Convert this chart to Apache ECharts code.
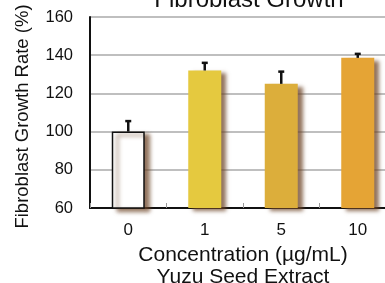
<!DOCTYPE html>
<html>
<head>
<meta charset="utf-8">
<script src="https://cdn.jsdelivr.net/npm/echarts@6/dist/echarts.min.js"></script>
<style>
  html, body { margin: 0; padding: 0; background: #fff; }
  #chart { width: 385px; height: 283px; }
</style>
</head>
<body>
<div id="chart"></div>
<script>
// data
const concentrations = ['0', '1', '5', '10'];
const growthRate = [100, 132, 125, 138.6];
const errorUpper = [105.5, 136, 131.4, 140.7];
const barColors = ['#ffffff', '#e5c93f', '#dcae3b', '#e5a435'];
const yTicks = [60, 80, 100, 120, 140, 160];

const font = 'Liberation Sans, Arial, sans-serif';
const chart = echarts.init(document.getElementById('chart'));

const option = {
  animation: false,
  title: {
    text: 'Fibroblast Growth',
    left: 244,
    textAlign: 'center',
    top: -17,
    textStyle: { fontFamily: font, fontSize: 24, fontWeight: 'normal', color: '#111' }
  },
  grid: { left: 90, top: 17, width: 306, bottom: 75, outerBoundsMode: 'none', containLabel: false },
  xAxis: {
    type: 'category',
    data: concentrations,
    name: 'Concentration (µg/mL)\nYuzu Seed Extract',
    nameLocation: 'middle',
    nameGap: 34,
    nameTextStyle: { fontFamily: font, fontSize: 21, color: '#111', lineHeight: 22, verticalAlign: 'top' },
    axisLine: { lineStyle: { color: '#111', width: 2 } },
    axisTick: { show: true, inside: true, length: 5, lineStyle: { color: '#999' } },
    axisLabel: { fontFamily: font, fontSize: 17, color: '#111', margin: 14 }
  },
  yAxis: {
    type: 'value',
    min: yTicks[0],
    max: yTicks[yTicks.length - 1],
    interval: 20,
    name: 'Fibroblast Growth Rate (%)',
    nameLocation: 'middle',
    nameGap: 58,
    nameTextStyle: { fontFamily: font, fontSize: 18.5, color: '#111', padding: [0, 8, 0, 0] },
    axisLine: { show: true, lineStyle: { color: '#111', width: 2 } },
    axisTick: { show: false },
    axisLabel: { fontFamily: font, fontSize: 16.5, color: '#111', margin: 17 },
    splitLine: { lineStyle: { color: '#aaa', width: 1.5 } }
  },
  series: [
    {
      type: 'bar',
      barWidth: 33,
      data: growthRate.map((v, i) => ({
        value: v,
        itemStyle: {
          color: barColors[i],
          borderColor: i === 0 ? '#111' : barColors[i],
          borderWidth: i === 0 ? 1.5 : 0,
          shadowColor: 'rgba(110,70,40,0.75)',
          shadowOffsetX: 5,
          shadowOffsetY: 3,
          shadowBlur: 4
        }
      })),
      z: 2
    },
    {
      type: 'custom',
      z: 3,
      data: growthRate.map((v, i) => [i, v, errorUpper[i]]),
      renderItem: function (params, api) {
        const base = api.coord([api.value(0), api.value(1)]);
        const top = api.coord([api.value(0), api.value(2)]);
        const style = { stroke: '#111', lineWidth: 2.5 };
        return {
          type: 'group',
          children: [
            { type: 'line', shape: { x1: base[0], y1: base[1], x2: top[0], y2: top[1] }, style: style },
            { type: 'line', shape: { x1: top[0] - 3, y1: top[1], x2: top[0] + 3, y2: top[1] }, style: style }
          ]
        };
      }
    }
  ]
};

chart.setOption(option);
</script>
</body>
</html>
